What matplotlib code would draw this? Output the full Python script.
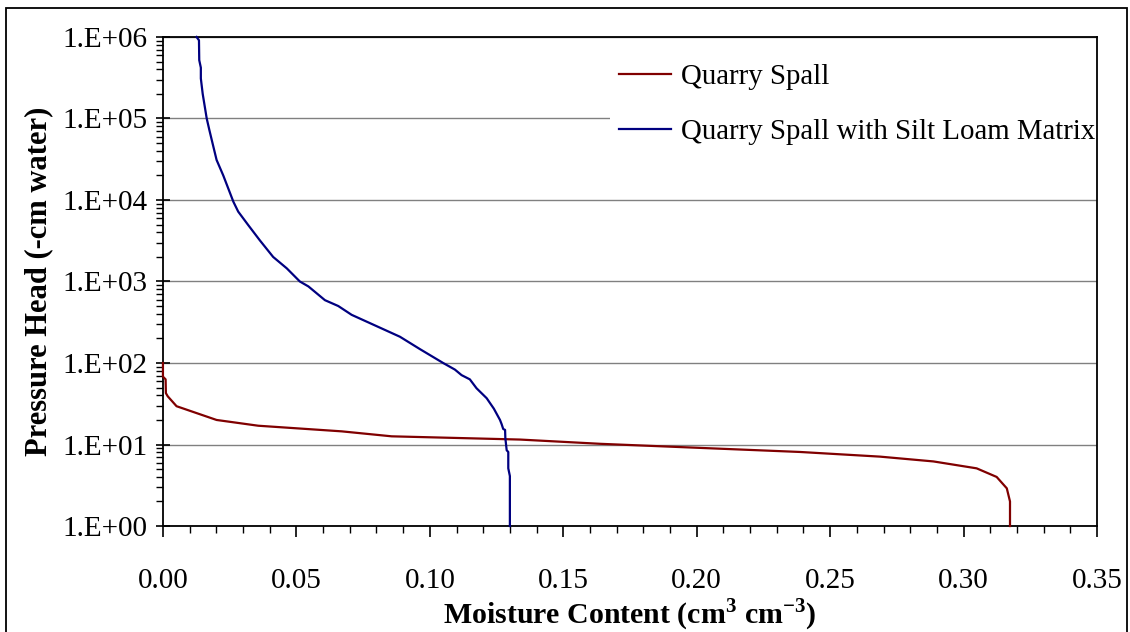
import matplotlib
matplotlib.use("Agg")
import numpy as np
import matplotlib.pyplot as plt
from matplotlib.ticker import FixedLocator, FuncFormatter, MultipleLocator
from matplotlib.patches import Rectangle

plt.rcParams['font.family'] = ['Liberation Serif', 'DejaVu Serif']
plt.rcParams['mathtext.fontset'] = 'custom'
plt.rcParams['mathtext.rm'] = 'Liberation Serif'
plt.rcParams['mathtext.bf'] = 'Liberation Serif:bold'

# water retention curves: moisture content vs pressure head (-cm water)
spall_theta = [0.3174, 0.3174, 0.3162, 0.3124, 0.3049, 0.2887, 0.2687, 0.2387,
               0.1638, 0.1338, 0.0857, 0.0670, 0.0357, 0.0201, 0.0051, 0.0018,
               0.0011, 0.0010, 0.0, 0.0]
spall_head = [1.0, 2.0, 2.9, 4.0, 5.1, 6.2, 7.1, 8.1,
              10.2, 11.5, 12.6, 14.5, 17.0, 20.0, 29.5, 39.0,
              42.7, 63.0, 68.0, 100.0]

matrix_theta = [0.0126, 0.0135, 0.0136, 0.0142, 0.0142, 0.0149, 0.0164, 0.0174,
                0.0189, 0.0201, 0.0226, 0.0264, 0.0282, 0.0320, 0.0363, 0.0413,
                0.0464, 0.0513, 0.0545, 0.0607, 0.0657, 0.0707, 0.0888, 0.0963,
                0.1050, 0.1094, 0.1119, 0.1150, 0.1175, 0.1213, 0.1240, 0.1263,
                0.1269, 0.1275, 0.1282, 0.1283, 0.1288, 0.1294, 0.1294, 0.1300,
                0.1300]
matrix_head = [1.0e6, 9.1e5, 5.2e5, 4.2e5, 3.1e5, 2.0e5, 1.0e5, 7.2e4,
               4.5e4, 3.1e4, 2.0e4, 9.5e3, 7.2e3, 4.9e3, 3.2e3, 2.0e3,
               1.45e3, 1.0e3, 8.7e2, 5.9e2, 5.0e2, 3.9e2, 2.1e2, 1.48e2,
               1.0e2, 83.0, 71.0, 63.0, 49.0, 37.0, 27.5, 20.0,
               17.8, 15.5, 15.1, 12.0, 8.5, 8.1, 5.1, 4.1,
               1.0]

fig = plt.figure(figsize=(11.30, 6.32), dpi=100)
ax = fig.add_axes([0.1442, 0.1677, 0.8266, 0.7738])

ax.plot(spall_theta, spall_head, color='#800000', lw=1.6, label='Quarry Spall',
        zorder=6, clip_on=False)
ax.plot(matrix_theta, matrix_head, color='#000080', lw=1.6,
        label='Quarry Spall with Silt Loam Matrix', zorder=6, clip_on=False)

ax.set_yscale('log')
ax.set_xlim(0, 0.35)
ax.set_ylim(1, 1e6)

ax.xaxis.set_major_locator(MultipleLocator(0.05))
ax.xaxis.set_minor_locator(MultipleLocator(0.01))
ax.xaxis.set_major_formatter(FuncFormatter(lambda v, p: f'{v:.2f}'))

decades = [10.0 ** k for k in range(0, 7)]
ax.yaxis.set_major_locator(FixedLocator(decades))
ax.yaxis.set_minor_locator(FixedLocator([m * d for d in decades[:-1] for m in range(2, 10)]))
ax.yaxis.set_major_formatter(FuncFormatter(lambda v, p: f'1.E+{int(round(np.log10(v))):02d}'))

ax.grid(True, which='major', axis='y', color='#808080', lw=1.0, zorder=1)
for s in ax.spines.values():
    s.set_color('black')
    s.set_linewidth(1.3)
    s.set_zorder(5)

ax.tick_params(axis='x', which='major', direction='out', length=8, width=1.2,
               labelsize=21, pad=22)
ax.tick_params(axis='x', which='minor', direction='out', length=5, width=1.0)
ax.tick_params(axis='y', which='major', direction='inout', length=10, width=1.2,
               labelsize=21, pad=6)
ax.tick_params(axis='y', which='minor', direction='out', length=5, width=1.0)

ax.set_xlabel(r'Moisture Content (cm$^{\mathbf{3}}$ cm$^{\mathbf{-3}}$)',
              fontsize=21.5, fontweight='bold', labelpad=2)
ax.set_ylabel('Pressure Head (-cm water)', fontsize=22, fontweight='bold', labelpad=7)

leg = ax.legend(loc='upper left', bbox_to_anchor=(0.4786, 0.962), fontsize=20.8,
                frameon=True, fancybox=False, handlelength=1.8, handletextpad=0.35,
                labelspacing=0.97, borderpad=0.3, borderaxespad=0)
leg.get_frame().set_facecolor('white')
leg.get_frame().set_edgecolor('none')
leg.get_frame().set_alpha(1.0)
leg.set_zorder(4)

# outer chart border
fig.patches.append(Rectangle((0.0053, -0.02), 0.992, 1.007, transform=fig.transFigure,
                             fill=False, edgecolor='black', lw=1.3))

fig.savefig('out.png', dpi=100)
